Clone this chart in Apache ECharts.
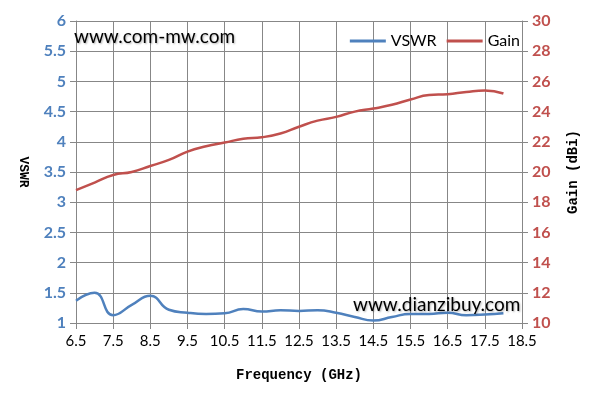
<!DOCTYPE html>
<html><head><meta charset="utf-8">
<script src="https://cdn.jsdelivr.net/npm/echarts@6/dist/echarts.min.js"></script>
<style>html,body{margin:0;padding:0;background:#fff}#c{width:595px;height:404px}</style>
</head><body><div id="c"></div>
<script>
var freqLabels = ['6.5','7','7.5','8','8.5','9','9.5','10','10.5','11','11.5','12','12.5','13','13.5','14','14.5','15','15.5','16','16.5','17','17.5','18','18.5'];
var vswr = [1.37,1.50,1.13,1.30,1.45,1.22,1.17,1.15,1.16,1.23,1.19,1.21,1.20,1.21,1.17,1.10,1.04,1.10,1.15,1.15,1.17,1.13,1.14,1.16,null];
var gain = [18.8,19.3,19.8,20.0,20.4,20.8,21.35,21.7,21.95,22.2,22.3,22.55,23.0,23.4,23.65,24.0,24.2,24.45,24.8,25.1,25.15,25.3,25.4,25.2,null];
var watermarks = ['www.com-mw.com','www.dianzibuy.com'];

var chart = echarts.init(document.getElementById('c'), null, {renderer:'canvas'});
var grey = '#878787';
var titleFont = '"Courier New", "Liberation Mono", monospace';
chart.setOption({
  animation:false,
  grid:{left:76,right:73,top:21,bottom:81},
  legend:{
    top:28, right:80, itemWidth:36, itemHeight:3, itemGap:10,
    icon:'rect',
    textStyle:{fontFamily:'Lato', fontSize:16, color:'#000'},
    data:['VSWR','Gain']
  },
  xAxis:{
    type:'category', data:freqLabels, boundaryGap:false,
    name:'Frequency (GHz)', nameLocation:'middle', nameGap:45,
    nameTextStyle:{fontFamily:titleFont, fontSize:14, fontWeight:'bold', color:'#000'},
    axisLine:{lineStyle:{color:grey}},
    axisTick:{show:true, interval:1, length:6, lineStyle:{color:grey}},
    axisLabel:{interval:1, color:'#000', fontFamily:'Lato', fontSize:15, margin:11},
    splitLine:{show:true, interval:1, lineStyle:{color:grey, width:1}}
  },
  yAxis:[{
    type:'value', min:1, max:6, interval:0.5, position:'left',
    name:'VSWR', nameLocation:'middle', nameGap:46, nameRotate:-90,
    nameTextStyle:{fontFamily:titleFont, fontSize:13, fontWeight:'bold', color:'#000'},
    axisLine:{show:true, lineStyle:{color:grey}},
    axisTick:{show:true, length:6, lineStyle:{color:grey}},
    axisLabel:{color:'#4F81BD', fontFamily:'Lato', fontWeight:'bold', fontSize:16, margin:10},
    splitLine:{show:true, lineStyle:{color:grey, width:1}}
  },{
    type:'value', min:10, max:30, interval:2, position:'right',
    name:'Gain (dBi)', nameLocation:'middle', nameGap:44, nameRotate:90,
    nameTextStyle:{fontFamily:titleFont, fontSize:14, fontWeight:'bold', color:'#000'},
    axisLine:{show:true, lineStyle:{color:grey}},
    axisTick:{show:true, length:6, lineStyle:{color:grey}},
    axisLabel:{color:'#C0504D', fontFamily:'Lato', fontWeight:'bold', fontSize:16, margin:10},
    splitLine:{show:false}
  }],
  series:[{
    name:'VSWR', type:'line', yAxisIndex:0, data:vswr, smooth:0.5, showSymbol:false,
    lineStyle:{color:'#4F81BD', width:2.5}, itemStyle:{color:'#4F81BD'}, z:3
  },{
    name:'Gain', type:'line', yAxisIndex:1, data:gain, smooth:0.5, showSymbol:false,
    lineStyle:{color:'#C0504D', width:2.5}, itemStyle:{color:'#C0504D'}, z:3
  }],
  graphic:[{
    type:'text', left:74, top:27, z:10,
    style:{text:watermarks[0], fontFamily:'Lato', fontSize:19, fill:'#000', textShadowColor:'rgba(0,0,0,0.3)', textShadowBlur:2, textShadowOffsetX:1, textShadowOffsetY:1}
  },{
    type:'text', left:353, top:295, z:10,
    style:{text:watermarks[1], fontFamily:'Lato', fontSize:19, fill:'#000', textShadowColor:'rgba(0,0,0,0.3)', textShadowBlur:2, textShadowOffsetX:1, textShadowOffsetY:1}
  }]
});
chart.setOption({legend:{right:70}});
</script></body></html>
